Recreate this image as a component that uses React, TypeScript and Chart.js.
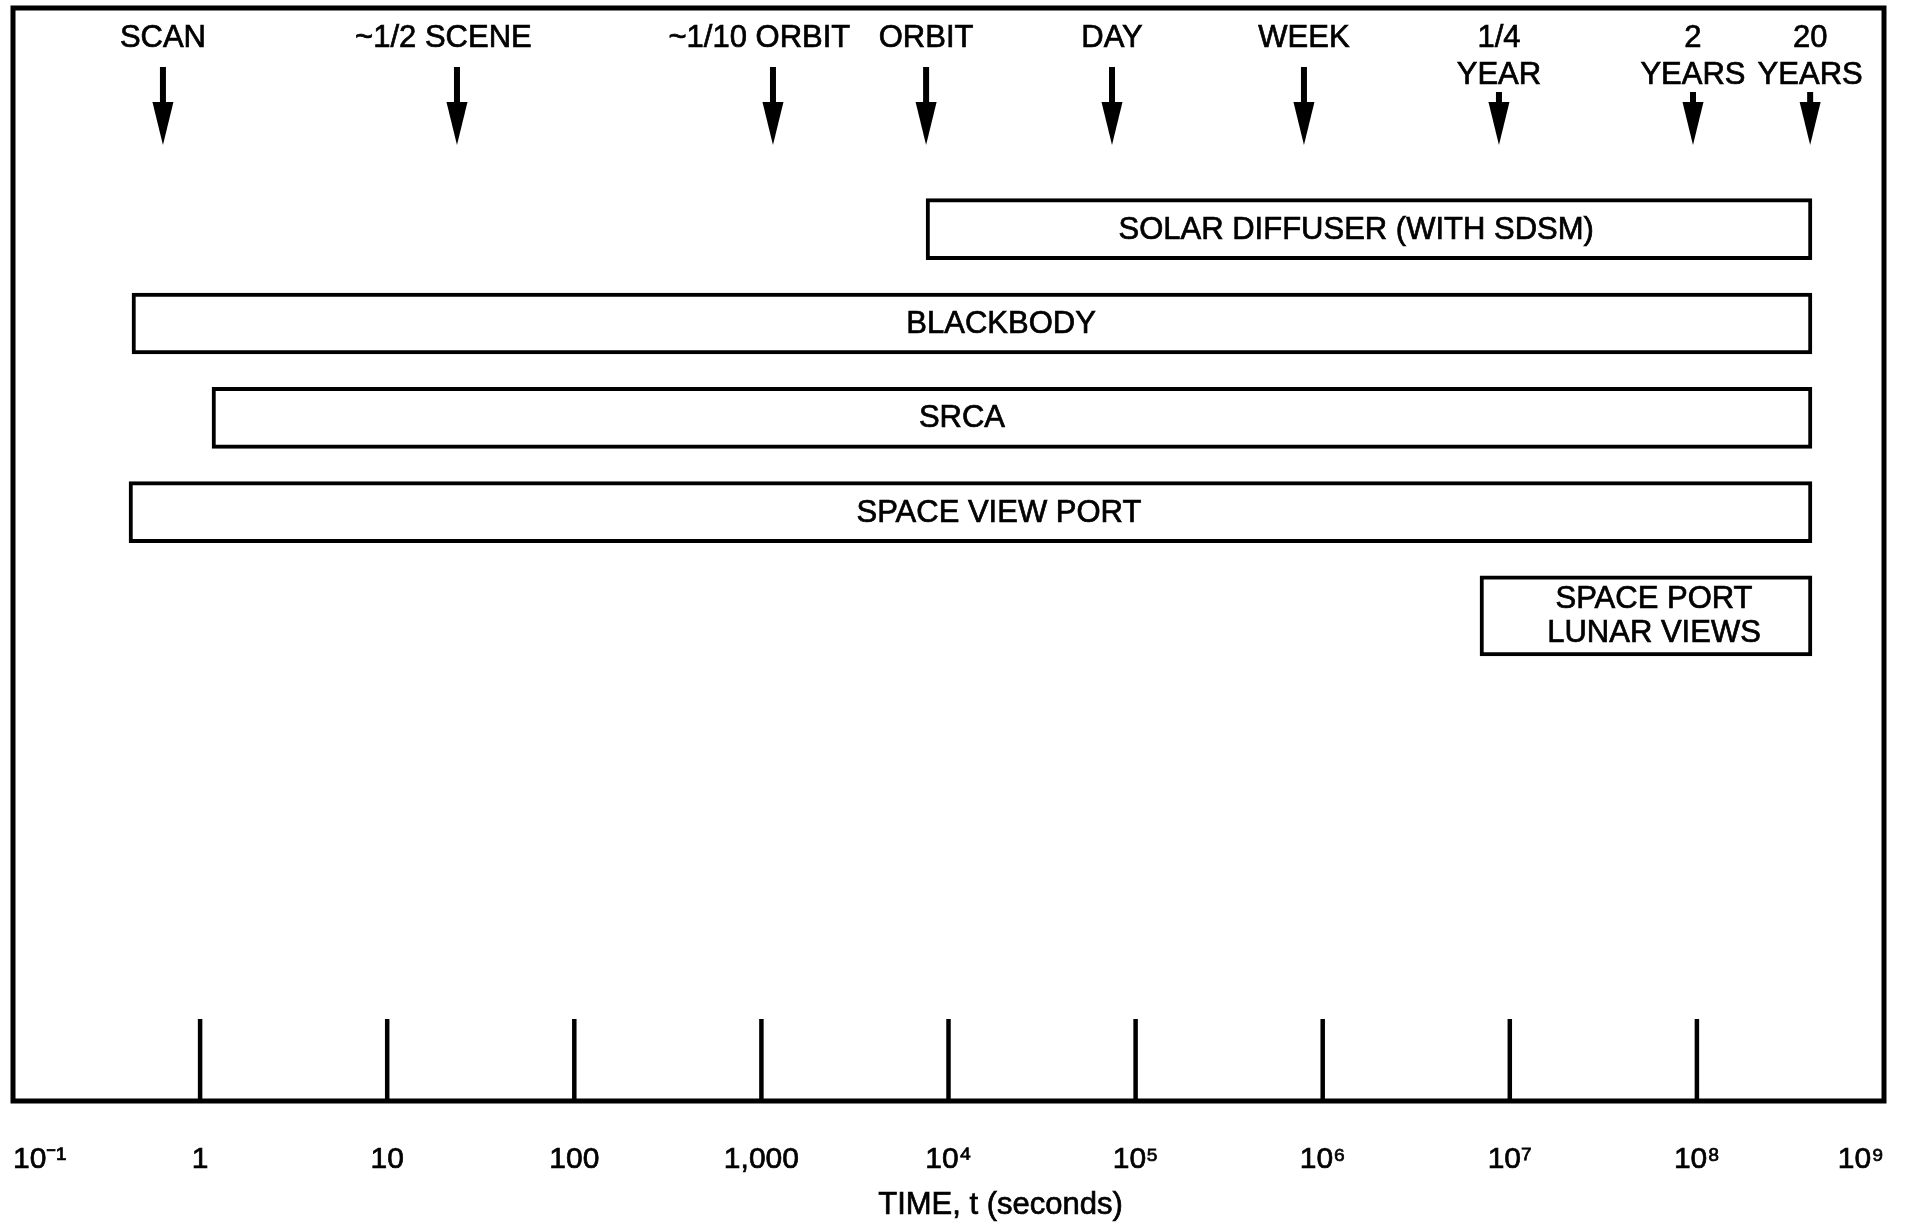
import React, { useEffect, useRef } from "react";
import { Chart, registerables } from "chart.js";

Chart.register(...registerables);

const FONT = '"Liberation Sans", Arial, Helvetica, sans-serif';
const INK = "#000000";
const TEXT_STROKE = 0.7;

// x axis (log time, seconds)
const tickValues = [0.1, 1, 10, 100, 1000, 1e4, 1e5, 1e6, 1e7, 1e8, 1e9];
const tickLabels = ["10⁻¹", "1", "10", "100", "1,000", "10⁴", "10⁵", "10⁶", "10⁷", "10⁸", "10⁹"];
const axisTitle = "TIME, t (seconds)";

// time-scale markers along the top
const eventNames = [
  ["SCAN"],
  ["~1/2 SCENE"],
  ["~1/10 ORBIT"],
  ["ORBIT"],
  ["DAY"],
  ["WEEK"],
  ["1/4", "YEAR"],
  ["2", "YEARS"],
  ["20", "YEARS"],
];
const eventTimes = [0.633, 23.6, 1153, 7590, 74800, 7.94e5, 8.75e6, 9.53e7, 4.03e8];

// calibration sources (rows)
const instrumentNames = [
  ["SOLAR DIFFUSER (WITH SDSM)"],
  ["BLACKBODY"],
  ["SRCA"],
  ["SPACE VIEW PORT"],
  ["SPACE PORT", "LUNAR VIEWS"],
];
const instrumentRows = [1, 2, 3, 4, 5.1];
const intervalStart = [7590, 0.4325, 1.158, 0.417, 6.93e6];
const intervalEnd = [4.12e8, 4.12e8, 4.12e8, 4.12e8, 4.12e8];
const labelTimes = [1.51e6, 1.91e4, 1.18e4, 1.86e4, 5.9e7];

const bars = instrumentNames.map((lines, i) => ({
  x: [intervalStart[i], intervalEnd[i]],
  y: instrumentRows[i],
  i,
  lines,
}));

function drawText(ctx: CanvasRenderingContext2D, s: string, x: number, y: number) {
  ctx.fillText(s, x, y);
  ctx.strokeText(s, x, y);
}

function setTextStyle(ctx: CanvasRenderingContext2D) {
  ctx.fillStyle = INK;
  ctx.strokeStyle = INK;
  ctx.lineWidth = TEXT_STROKE;
  ctx.font = `31px ${FONT}`;
  ctx.textAlign = "center";
  ctx.textBaseline = "middle";
}

const framePlugin = {
  id: "frame",
  afterDraw(chart: any) {
    const { ctx, chartArea: a } = chart;
    ctx.save();
    ctx.strokeStyle = INK;
    ctx.lineWidth = 5;
    ctx.strokeRect(a.left, a.top, a.right - a.left, a.bottom - a.top);
    ctx.restore();
  },
};

const innerTicksPlugin = {
  id: "innerTicks",
  afterDatasetsDraw(chart: any) {
    const { ctx, chartArea: a, scales } = chart;
    const xs = scales.x;
    ctx.save();
    ctx.strokeStyle = INK;
    ctx.lineWidth = 4.5;
    tickValues.slice(1, -1).forEach((v) => {
      const px = xs.getPixelForValue(v);
      ctx.beginPath();
      ctx.moveTo(px, a.bottom);
      ctx.lineTo(px, a.bottom - 82);
      ctx.stroke();
    });
    ctx.restore();
  },
};

const barLabelPlugin = {
  id: "barLabels",
  afterDatasetsDraw(chart: any) {
    const { ctx, scales } = chart;
    const xs = scales.x;
    ctx.save();
    setTextStyle(ctx);
    chart.data.datasets.forEach((ds: any, di: number) => {
      const meta = chart.getDatasetMeta(di);
      meta.data.forEach((el: any, j: number) => {
        const d = ds.data[j];
        const px = xs.getPixelForValue(labelTimes[d.i]);
        const n = d.lines.length;
        const lh = 34;
        d.lines.forEach((t: string, k: number) => {
          drawText(ctx, t, px, el.y + (k - (n - 1) / 2) * lh + 1);
        });
      });
    });
    ctx.restore();
  },
};

const eventPlugin = {
  id: "events",
  afterDatasetsDraw(chart: any) {
    const { ctx, chartArea: a, scales } = chart;
    const xs = scales.x;
    ctx.save();
    setTextStyle(ctx);
    const tilde = ctx.measureText("~").width;
    eventTimes.forEach((t, k) => {
      const px = xs.getPixelForValue(t);
      const lines = eventNames[k];
      lines.forEach((s, li) => {
        const shift = s.startsWith("~") ? tilde * 0.75 : 0;
        drawText(ctx, s, px - shift, a.top + 30.5 + li * 37);
      });
      const shaftTop = a.top + (lines.length > 1 ? 84 : 59);
      const headTop = a.top + 94;
      const tip = a.top + 137;
      ctx.fillRect(px - 3, shaftTop, 6, headTop - shaftTop + 2);
      ctx.beginPath();
      ctx.moveTo(px - 10.5, headTop);
      ctx.lineTo(px + 10.5, headTop);
      ctx.lineTo(px, tip);
      ctx.closePath();
      ctx.fill();
    });
    ctx.restore();
  },
};

const axisTitlePlugin = {
  id: "axisTitle",
  afterDraw(chart: any) {
    const { ctx, chartArea: a, scales } = chart;
    const xs = scales.x;
    ctx.save();
    setTextStyle(ctx);
    drawText(ctx, axisTitle, (a.left + a.right) / 2 + 52, xs.bottom - 17);
    ctx.restore();
  },
};

export default function App() {
  const ref = useRef<HTMLCanvasElement>(null);
  useEffect(() => {
    document.body.style.margin = "0";
    const canvas = ref.current!;
    const barStyle = {
      backgroundColor: "#ffffff",
      borderColor: INK,
      borderWidth: 4,
      borderSkipped: false as const,
      grouped: false,
    };
    const chart = new Chart(canvas, {
      type: "bar",
      data: {
        datasets: [
          {
            label: "single-line",
            data: bars.filter((b) => b.lines.length === 1) as any,
            barThickness: 61,
            ...barStyle,
          },
          {
            label: "two-line",
            data: bars.filter((b) => b.lines.length === 2) as any,
            barThickness: 80,
            ...barStyle,
          },
        ],
      },
      options: {
        indexAxis: "y",
        responsive: false,
        animation: false,
        devicePixelRatio: 1,
        layout: { padding: { left: 13, right: 21, top: 8, bottom: 0 } },
        plugins: {
          legend: { display: false },
          tooltip: { enabled: false },
          title: { display: false },
        },
        scales: {
          x: {
            type: "logarithmic",
            position: "bottom",
            min: 0.1,
            max: 1e9,
            grid: { display: false, drawTicks: true, tickLength: 41 },
            border: { display: false },
            afterBuildTicks: (scale: any) => {
              scale.ticks = tickValues.map((v) => ({ value: v }));
            },
            afterFit: (scale: any) => {
              scale.height = 121;
            },
            ticks: {
              autoSkip: false,
              maxRotation: 0,
              minRotation: 0,
              padding: 0,
              align: "inner",
              color: INK,
              textStrokeColor: INK,
              textStrokeWidth: TEXT_STROKE,
              font: { family: FONT, size: 30 },
              callback: (v: any) => {
                const i = tickValues.findIndex((t) => Math.abs(Math.log10(t) - Math.log10(Number(v))) < 1e-6);
                return i >= 0 ? tickLabels[i] : "";
              },
            },
          },
          y: {
            type: "linear",
            display: false,
            offset: false,
            reverse: true,
            min: -1.3457,
            max: 10.245,
          },
        },
      },
      plugins: [innerTicksPlugin, barLabelPlugin, eventPlugin, framePlugin, axisTitlePlugin],
    });
    return () => chart.destroy();
  }, []);
  return (
    <canvas
      ref={ref}
      width={1905}
      height={1222}
      style={{ display: "block", width: 1905, height: 1222 }}
    />
  );
}
